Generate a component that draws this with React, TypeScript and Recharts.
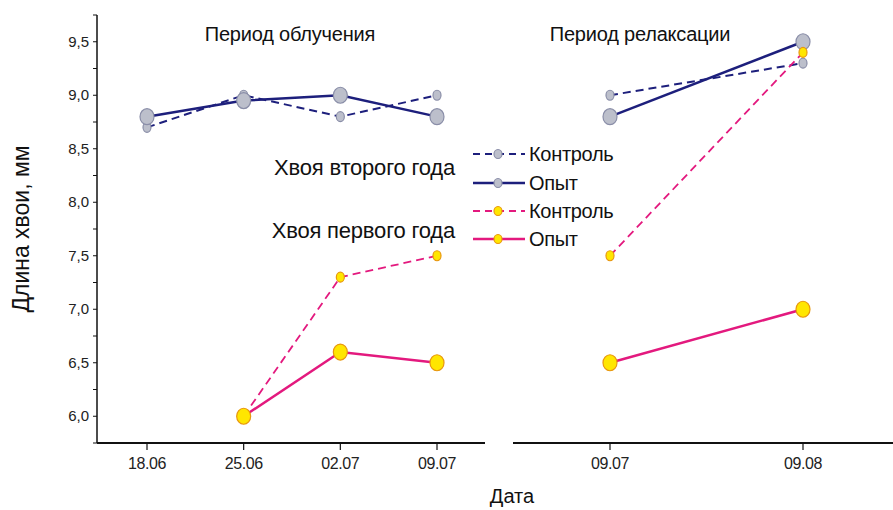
import * as React from "react";
import { Line, LineChart, XAxis, YAxis } from "recharts";

// period of irradiation
const leftDates = ["18.06", "25.06", "02.07", "09.07"];
const leftSecondControl = [8.7, 9.0, 8.8, 9.0];
const leftSecondExp = [8.8, 8.95, 9.0, 8.8];
const leftFirstControl = [null, 6.0, 7.3, 7.5];
const leftFirstExp = [null, 6.0, 6.6, 6.5];

// period of relaxation
const rightDates = ["09.07", "09.08"];
const rightSecondControl = [9.0, 9.3];
const rightSecondExp = [8.8, 9.5];
const rightFirstControl = [7.5, 9.4];
const rightFirstExp = [6.5, 7.0];

const yTicks = [5.75, 6, 6.25, 6.5, 6.75, 7, 7.25, 7.5, 7.75, 8, 8.25, 8.5, 8.75, 9, 9.25, 9.5, 9.75];

const NAVY = "#1d1f7c";
const PINK = "#e3197e";
const GRAY_FILL = "#bcbfcb";
const GRAY_STROKE = "#8a8ea8";
const YELLOW_FILL = "#ffe600";
const YELLOW_STROKE = "#e8970f";
const FONT = "'Liberation Sans', Arial, sans-serif";

const build = (dates: string[], sc: (number | null)[], se: (number | null)[], fc: (number | null)[], fe: (number | null)[]) =>
  dates.map((d, i) => ({ date: d, sc: sc[i], se: se[i], fc: fc[i], fe: fe[i] }));

const leftData = build(leftDates, leftSecondControl, leftSecondExp, leftFirstControl, leftFirstExp);
const rightData = build(rightDates, rightSecondControl, rightSecondExp, rightFirstControl, rightFirstExp);

const makeDot = (fill: string, stroke: string, rx: number, ry: number) => (props: any) => {
  const { cx, cy, value, index } = props;
  if (value == null || cx == null || cy == null) return <g key={index} />;
  return <ellipse key={index} cx={cx} cy={cy} rx={rx} ry={ry} fill={fill} stroke={stroke} strokeWidth={1.2} />;
};

const grayBig = makeDot(GRAY_FILL, GRAY_STROKE, 7, 8);
const graySmall = makeDot(GRAY_FILL, GRAY_STROKE, 4, 5);
const yellowBig = makeDot(YELLOW_FILL, YELLOW_STROKE, 7, 8);
const yellowSmall = makeDot(YELLOW_FILL, YELLOW_STROKE, 4, 5);

const YTick = (props: any) => {
  const { x, y, payload } = props;
  const v = payload.value as number;
  if (Math.abs(v * 2 - Math.round(v * 2)) > 1e-6) return <g />;
  return (
    <text x={x} y={y} dy={5} textAnchor="end" fontSize={15} fontFamily={FONT} fill="#222">
      {v.toFixed(1).replace(".", ",")}
    </text>
  );
};

const xTick = { fontSize: 16, fontFamily: FONT, fill: "#222", letterSpacing: -0.4 };

function Panel({ data, width, showY, padding }: { data: any[]; width: number; showY: boolean; padding: { left: number; right: number } }) {
  return (
    <LineChart width={width} height={510} data={data} margin={{ top: 15, right: showY ? 5 : 0, bottom: 0, left: 0 }}>
      <XAxis
        dataKey="date"
        scale="point"
        padding={padding}
        height={67}
        tickSize={7}
        tickMargin={8}
        axisLine={{ stroke: "#111", strokeWidth: 2 }}
        tickLine={{ stroke: "#111", strokeWidth: 1.2 }}
        tick={xTick}
        interval={0}
      />
      <YAxis
        hide={!showY}
        width={97}
        type="number"
        domain={[5.75, 9.75]}
        ticks={yTicks}
        interval={0}
        tickSize={4}
        tickMargin={4}
        axisLine={{ stroke: "#111", strokeWidth: 1.5 }}
        tickLine={{ stroke: "#111", strokeWidth: 1 }}
        tick={<YTick />}
        allowDataOverflow
      />
      <Line dataKey="sc" stroke={NAVY} strokeWidth={2} strokeDasharray="8 5" dot={graySmall} activeDot={false} isAnimationActive={false} />
      <Line dataKey="se" stroke={NAVY} strokeWidth={2.5} dot={grayBig} activeDot={false} isAnimationActive={false} />
      <Line dataKey="fc" stroke={PINK} strokeWidth={1.8} strokeDasharray="8 5" dot={yellowSmall} activeDot={false} isAnimationActive={false} />
      <Line dataKey="fe" stroke={PINK} strokeWidth={2.5} dot={yellowBig} activeDot={false} isAnimationActive={false} />
    </LineChart>
  );
}

const legendRows = [
  { y: 154, color: NAVY, dash: "7 5", fill: GRAY_FILL, stroke: GRAY_STROKE, label: "Контроль" },
  { y: 183, color: NAVY, dash: undefined, fill: GRAY_FILL, stroke: GRAY_STROKE, label: "Опыт" },
  { y: 211, color: PINK, dash: "7 5", fill: YELLOW_FILL, stroke: YELLOW_STROKE, label: "Контроль" },
  { y: 239, color: PINK, dash: undefined, fill: YELLOW_FILL, stroke: YELLOW_STROKE, label: "Опыт" },
];

export default function App() {
  return (
    <div style={{ position: "absolute", left: 0, top: 0, width: 893, height: 510, background: "#fff", overflow: "hidden" }}>
      <div style={{ position: "absolute", left: 0, top: 0 }}>
        <Panel data={leftData} width={490} showY padding={{ left: 50, right: 48 }} />
      </div>
      <div style={{ position: "absolute", left: 513, top: 0 }}>
        <Panel data={rightData} width={380} showY={false} padding={{ left: 97, right: 90 }} />
      </div>
      <svg width={893} height={510} style={{ position: "absolute", left: 0, top: 0, pointerEvents: "none" }} fontFamily={FONT}>
        <text x={290} y={41} textAnchor="middle" fontSize={20} fill="#111" letterSpacing={-0.2}>
          Период облучения
        </text>
        <text x={640} y={41} textAnchor="middle" fontSize={20} fill="#111" letterSpacing={-0.2}>
          Период релаксации
        </text>
        <text x={455} y={175} textAnchor="end" fontSize={22} fill="#111" letterSpacing={-0.2}>
          Хвоя второго года
        </text>
        <text x={455} y={238} textAnchor="end" fontSize={22} fill="#111" letterSpacing={-0.2}>
          Хвоя первого года
        </text>
        {legendRows.map((r) => (
          <g key={r.y + r.label}>
            <line x1={473} x2={525} y1={r.y} y2={r.y} stroke={r.color} strokeWidth={r.dash ? 2 : 2.5} strokeDasharray={r.dash} />
            <ellipse cx={498} cy={r.y} rx={4} ry={4.5} fill={r.fill} stroke={r.stroke} strokeWidth={1.2} />
            <text x={529} y={r.y + 7} fontSize={20} fill="#111" letterSpacing={-0.3}>
              {r.label}
            </text>
          </g>
        ))}
        <text x={512} y={503} textAnchor="middle" fontSize={20} fill="#111">
          Дата
        </text>
        <text transform="translate(29,229) rotate(-90)" textAnchor="middle" fontSize={23} fill="#111">
          Длина хвои, мм
        </text>
      </svg>
    </div>
  );
}
